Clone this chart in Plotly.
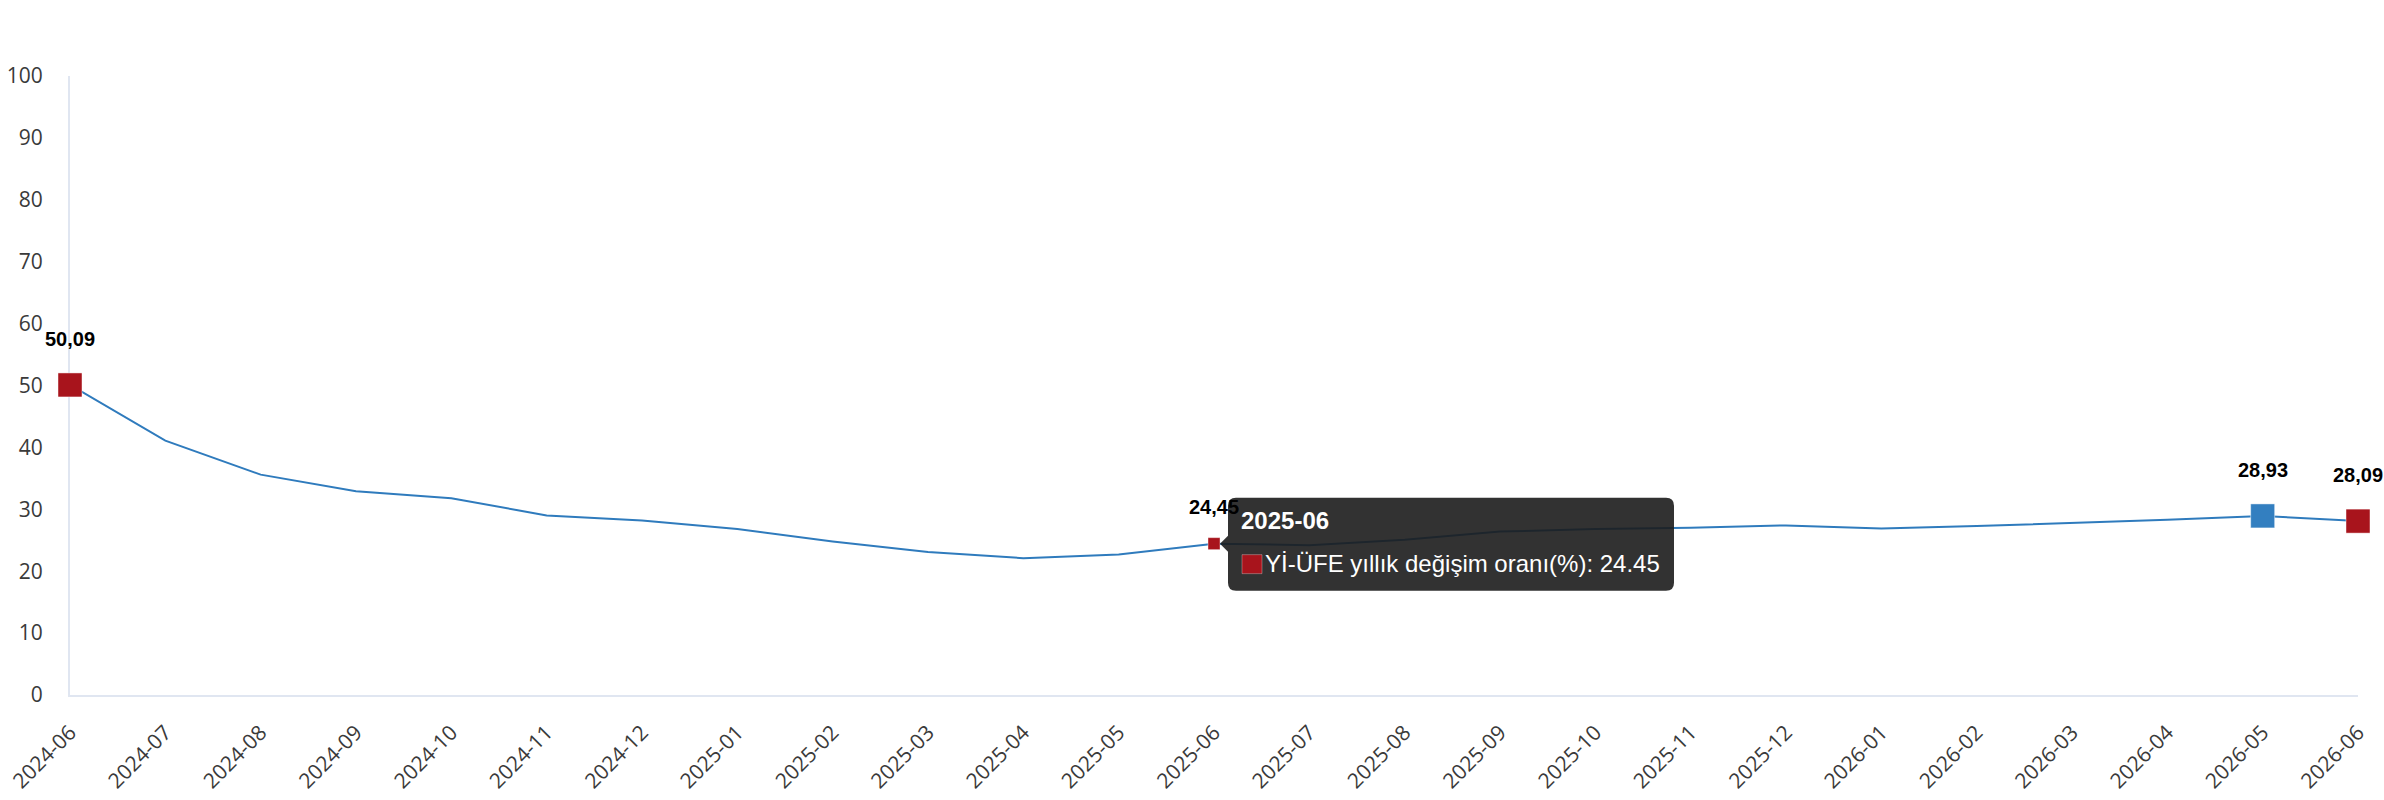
import plotly.graph_objects as go

months = ["2024-06", "2024-07", "2024-08", "2024-09", "2024-10", "2024-11", "2024-12",
          "2025-01", "2025-02", "2025-03", "2025-04", "2025-05", "2025-06", "2025-07",
          "2025-08", "2025-09", "2025-10", "2025-11", "2025-12", "2026-01", "2026-02",
          "2026-03", "2026-04", "2026-05", "2026-06"]
values = [50.09, 41.1, 35.6, 32.9, 31.8, 29.0, 28.2, 26.8, 24.8, 23.1, 22.1, 22.7, 24.45,
          24.2, 25.1, 26.4, 26.8, 27.0, 27.4, 26.9, 27.3, 27.8, 28.3, 28.93, 28.09]

series_name = "Yİ-ÜFE yıllık değişim oranı(%)"
red_months = ["2024-06", "2026-06"]
blue_months = ["2026-05"]
hover_month = "2025-06"

LINE = "#2f7bbd"
RED = "#a8141c"
BLUE = "#337fc0"
AXIS = "#e0e6f1"
TXT = "#3a3a3a"

val = dict(zip(months, values))
fmt = lambda v: f"{v:.2f}".replace(".", ",")

fig = go.Figure()
fig.add_trace(go.Scatter(x=months, y=values, mode="lines",
                         line=dict(color=LINE, width=2), hoverinfo="skip", showlegend=False))
fig.add_trace(go.Scatter(x=red_months, y=[val[m] for m in red_months], mode="markers",
                         marker=dict(symbol="square", size=24, color=RED,
                                     line=dict(color="rgba(255,255,255,0.45)", width=1)),
                         cliponaxis=False, showlegend=False))
fig.add_trace(go.Scatter(x=blue_months, y=[val[m] for m in blue_months], mode="markers",
                         marker=dict(symbol="square", size=24, color=BLUE,
                                     line=dict(color="rgba(255,255,255,0.45)", width=1)),
                         cliponaxis=False, showlegend=False))
fig.add_trace(go.Scatter(x=[hover_month], y=[val[hover_month]], mode="markers",
                         marker=dict(symbol="square", size=12, color=RED,
                                     line=dict(color="rgba(255,255,255,0.4)", width=1)),
                         cliponaxis=False, showlegend=False))

lab_font = dict(family="Liberation Sans, Arial, sans-serif", size=20, color="#000000")
for m in red_months + blue_months:
    fig.add_annotation(x=m, y=val[m], text=f"<b>{fmt(val[m])}</b>", showarrow=False,
                       yshift=46, font=lab_font)
fig.add_annotation(x=hover_month, y=val[hover_month], text=f"<b>{fmt(val[hover_month])}</b>",
                   showarrow=False, yshift=37, font=lab_font)

# tooltip
hi = months.index(hover_month)
tip_path = ("M 22,46 L 452,46 Q 460,46 460,38 L 460,-39 Q 460,-47 452,-47 L 22,-47 "
            "Q 14,-47 14,-39 L 14,-8 L 6,0 L 14,8 L 14,38 Q 14,46 22,46 Z")
fig.add_shape(type="path", xref="x", yref="y", xsizemode="pixel", ysizemode="pixel",
              xanchor=hi, yanchor=val[hover_month], path=tip_path,
              fillcolor="rgba(28,28,28,0.9)", line=dict(width=0), layer="above")
fig.add_shape(type="rect", xref="x", yref="y", xsizemode="pixel", ysizemode="pixel",
              xanchor=hi, yanchor=val[hover_month], x0=28, x1=48, y0=-30, y1=-11,
              fillcolor=RED, line=dict(color="rgba(255,255,255,0.3)", width=1), layer="above")
fig.add_annotation(x=hover_month, y=val[hover_month], text=f"<b>{hover_month}</b>",
                   showarrow=False, xanchor="left", yanchor="middle", xshift=25, yshift=23,
                   font=dict(family="Liberation Sans, Arial, sans-serif", size=24, color="#ffffff"))
fig.add_annotation(x=hover_month, y=val[hover_month],
                   text=f"{series_name}: {val[hover_month]:.2f}",
                   showarrow=False, xanchor="left", yanchor="middle", xshift=49, yshift=-20,
                   font=dict(family="Liberation Sans, Arial, sans-serif", size=24, color="#ffffff"))

fig.update_layout(
    width=2384, height=800,
    margin=dict(l=70, r=26, t=76, b=105, autoexpand=False),
    paper_bgcolor="white", plot_bgcolor="white",
    font=dict(family="Open Sans, Noto Sans, sans-serif", color=TXT),
    xaxis=dict(type="category", range=[0, len(months) - 1], tickmode="array",
               tickvals=months, ticktext=months, tickangle=-45, automargin=False,
               showgrid=False, zeroline=False, showline=True, linecolor=AXIS, linewidth=2,
               ticks="", ticklabelstandoff=15, tickfont=dict(size=21, color=TXT),
               layer="below traces", fixedrange=True),
    yaxis=dict(range=[0, 100], dtick=10, showgrid=False, zeroline=False, showline=True,
               linecolor=AXIS, linewidth=2, ticks="", ticklabelstandoff=21, automargin=False,
               tickfont=dict(size=21, color=TXT), layer="below traces", fixedrange=True),
    showlegend=False,
)

fig.write_html("out.html")
